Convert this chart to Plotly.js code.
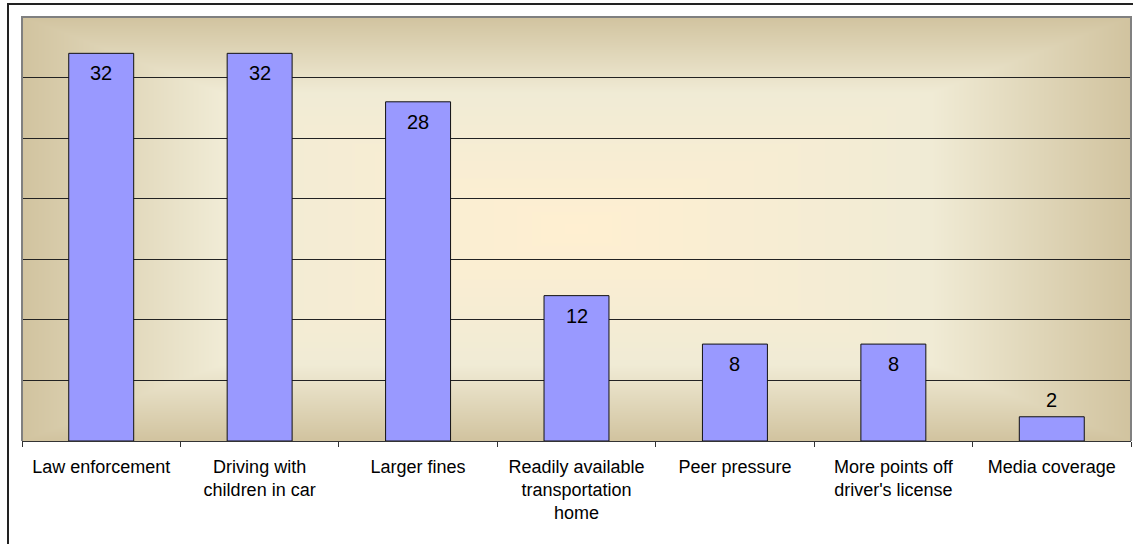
<!DOCTYPE html>
<html><head><meta charset="utf-8">
<script src="https://cdn.plot.ly/plotly-3.0.1.min.js"></script>
<style>
html,body{margin:0;padding:0;background:#fff;}
#wrap{position:relative;width:1133px;height:544px;overflow:hidden;}
#chart{width:1133px;height:544px;}
#frame{position:absolute;left:7px;top:3px;width:1140px;height:560px;border:2px solid #222;pointer-events:none;}
</style></head><body>
<div id="wrap"><div id="chart"></div><div id="frame"></div></div>
<script>
const categories = ["Law enforcement","Driving with<br>children in car","Larger fines","Readily available<br>transportation<br>home","Peer pressure","More points off<br>driver's license","Media coverage"];
const values = [32,32,28,12,8,8,2];
const yTicks = [0,5,10,15,20,25,30,35];

function makeBg(w,h){
  const c=document.createElement('canvas'); c.width=w; c.height=h;
  const ctx=c.getContext('2d'); const img=ctx.createImageData(w,h);
  const stops=[[0,[255,239,209]],[0.64,[240,235,213]],[1,[209,195,159]]];
  const cx=w/2, cy=h/2;
  for(let y=0;y<h;y++){for(let x=0;x<w;x++){
    let t=Math.max(Math.abs(x+0.5-cx)/cx, Math.abs(y+0.5-cy)/cy); if(t>1)t=1;
    let a=stops[0],b=stops[1]; if(t>stops[1][0]){a=stops[1];b=stops[2];}
    const f=(t-a[0])/(b[0]-a[0]);
    const i=(y*w+x)*4;
    for(let k=0;k<3;k++) img.data[i+k]=Math.round(a[1][k]+(b[1][k]-a[1][k])*f);
    img.data[i+3]=255;
  }}
  ctx.putImageData(img,0,0); return c.toDataURL('image/png');
}

const annotations = categories.map((c,i)=>{
  const inside = values[i] >= 5;
  return {x:c, y:values[i], xref:'x', yref:'y', text:String(values[i]), showarrow:false,
    yanchor: inside?'top':'bottom', yshift: inside?-7:4,
    font:{family:'Liberation Sans, Arial, sans-serif', size:20, color:'#000'}};
});

const trace = {type:'bar', x:categories, y:values,
  marker:{color:'#9999FF', line:{color:'#111', width:1}}, hoverinfo:'skip'};

const layout = {
  width:1133, height:544,
  margin:{l:22, r:2, t:17, b:103},
  paper_bgcolor:'#fff', plot_bgcolor:'rgba(0,0,0,0)',
  bargap:0.59, showlegend:false,
  font:{family:'Liberation Sans, Arial, sans-serif', size:18, color:'#000'},
  xaxis:{type:'category', tickson:'boundaries', ticks:'outside', ticklen:5, tickcolor:'#333',
    showline:true, linecolor:'#333', linewidth:1, showgrid:false, fixedrange:true,
    ticklabelstandoff:9, tickfont:{size:18, color:'#000'}},
  yaxis:{range:[0,35], tickvals:yTicks, showticklabels:false, showgrid:true, gridcolor:'#222', gridwidth:1,
    zeroline:false, showline:false, ticks:'', fixedrange:true},
  images:[{source:makeBg(1109,424), xref:'paper', yref:'paper', x:0, y:1, sizex:1, sizey:1,
    sizing:'stretch', xanchor:'left', yanchor:'top', layer:'below'}],
  shapes:[{type:'path', xref:'paper', yref:'paper', path:'M0,0 L0,1 L1,1 L1,0', line:{color:'#808080', width:2}}],
  annotations:annotations
};
Plotly.newPlot('chart',[trace],layout,{displayModeBar:false, staticPlot:true});
</script></body></html>
